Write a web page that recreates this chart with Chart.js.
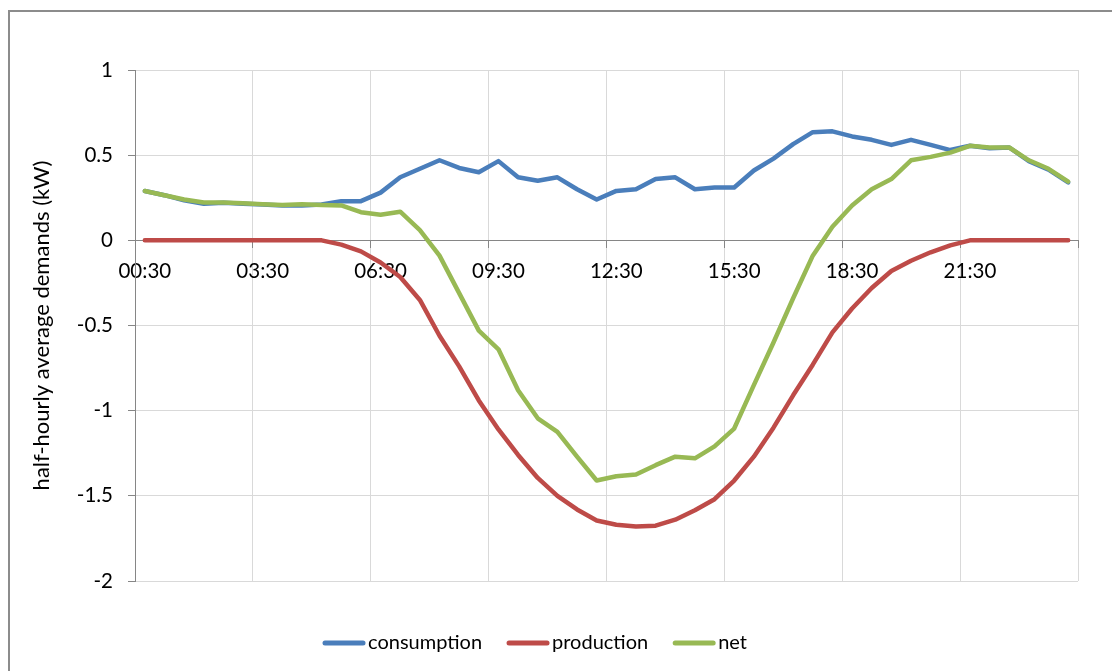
<!DOCTYPE html>
<html>
<head>
<meta charset="utf-8">
<script src="https://cdn.jsdelivr.net/npm/chart.js@4.4.1/dist/chart.umd.min.js"></script>
<style>
  html, body { margin: 0; padding: 0; background: #fff; overflow: hidden; }
  #wrap { position: relative; width: 1112px; height: 671px; }
  #frame { position: absolute; left: 8px; top: 10px; width: 1200px; height: 800px;
           border-left: 2px solid #8c8c8c; border-top: 2px solid #8c8c8c; }
  canvas { position: absolute; left: 0; top: 0; }
</style>
</head>
<body>
<div id="wrap">
  <div id="frame"></div>
  <canvas id="myChart" width="1112" height="671"></canvas>
</div>
<script>
var times = [
  '00:30', '01:00', '01:30', '02:00', '02:30', '03:00', '03:30', '04:00',
  '04:30', '05:00', '05:30', '06:00', '06:30', '07:00', '07:30', '08:00',
  '08:30', '09:00', '09:30', '10:00', '10:30', '11:00', '11:30', '12:00',
  '12:30', '13:00', '13:30', '14:00', '14:30', '15:00', '15:30', '16:00',
  '16:30', '17:00', '17:30', '18:00', '18:30', '19:00', '19:30', '20:00',
  '20:30', '21:00', '21:30', '22:00', '22:30', '23:00', '23:30', '00:00'
];

var consumption = [
  0.29, 0.265, 0.235, 0.215, 0.22, 0.215, 0.21, 0.205,
  0.205, 0.21, 0.23, 0.23, 0.28, 0.37, 0.42, 0.47,
  0.425, 0.40, 0.465, 0.37, 0.35, 0.37, 0.30, 0.24,
  0.29, 0.30, 0.36, 0.37, 0.30, 0.31, 0.31, 0.41,
  0.48, 0.565, 0.635, 0.64, 0.61, 0.59, 0.56, 0.59,
  0.56, 0.53, 0.555, 0.54, 0.545, 0.465, 0.415, 0.34
];

var production = [
  0, 0, 0, 0, 0, 0, 0, 0,
  0, 0, -0.025, -0.065, -0.13, -0.215, -0.35, -0.56,
  -0.74, -0.94, -1.11, -1.26, -1.395, -1.50, -1.58, -1.645,
  -1.67, -1.68, -1.675, -1.64, -1.585, -1.52, -1.41, -1.27,
  -1.10, -0.91, -0.73, -0.54, -0.40, -0.28, -0.18, -0.12,
  -0.07, -0.03, 0, 0, 0, 0, 0, 0
];

var net = [
  0.29, 0.265, 0.24, 0.222, 0.222, 0.218, 0.212, 0.207,
  0.212, 0.208, 0.205, 0.165, 0.15, 0.168, 0.06, -0.09,
  -0.31, -0.53, -0.64, -0.88, -1.045, -1.125, -1.27, -1.41,
  -1.385, -1.375, -1.32, -1.27, -1.28, -1.21, -1.105, -0.85,
  -0.60, -0.34, -0.09, 0.08, 0.205, 0.30, 0.36, 0.47,
  0.49, 0.515, 0.555, 0.545, 0.545, 0.47, 0.42, 0.345
];

var seriesNames = ['consumption', 'production', 'net'];
var seriesColors = ['#4a7ebb', '#be4b48', '#98b954'];

var FONT = 'Lato, "Open Sans", sans-serif';
var gridGrey = '#d9d9d9';
var axisGrey = '#868686';

// legend drawn under the plot, Excel style (line swatch + label)
var lineLegend = {
    id: 'lineLegend',
    afterDraw: function(chart) {
        var ctx = chart.ctx;
        var sets = chart.data.datasets;
        var sw = 42, gap = 3, space = 25, cx = 535, cy = 643;
        ctx.save();
        ctx.font = '20px ' + FONT;
        var widths = sets.map(function(d) { return sw + gap + ctx.measureText(d.label).width; });
        var total = widths.reduce(function(a, b) { return a + b; }, 0) + space * (sets.length - 1);
        var x = cx - total / 2;
        sets.forEach(function(d, i) {
            ctx.strokeStyle = d.borderColor;
            ctx.lineWidth = 5;
            ctx.lineCap = 'round';
            ctx.beginPath();
            ctx.moveTo(x + 2, cy);
            ctx.lineTo(x + sw - 2, cy);
            ctx.stroke();
            ctx.fillStyle = '#000';
            ctx.textBaseline = 'middle';
            ctx.textAlign = 'left';
            ctx.fillText(d.label, x + sw + gap, cy);
            x += widths[i] + space;
        });
        ctx.restore();
    }
};

function makeSet(i, values, order) {
    return {
        label: seriesNames[i],
        data: values,
        borderColor: seriesColors[i],
        backgroundColor: seriesColors[i],
        borderWidth: 4.5,
        pointRadius: 0,
        tension: 0,
        borderJoinStyle: 'round',
        borderCapStyle: 'round',
        order: order
    };
}

var ctx = document.getElementById('myChart').getContext('2d');
var myChart = new Chart(ctx, {
    type: 'line',
    data: {
        labels: times,
        datasets: [
            makeSet(0, consumption, 2),
            makeSet(1, production, 1),
            makeSet(2, net, 0)
        ]
    },
    options: {
        responsive: false,
        animation: false,
        layout: {
            padding: { left: 25, right: 34, top: 70, bottom: 90 }
        },
        scales: {
            x: {
                type: 'category',
                position: { y: 0 },
                offset: true,
                grid: {
                    offset: true,
                    tickLength: 7,
                    color: function(c) {
                        if (c.type === 'tick' && c.index % 6 !== 0) return 'rgba(0,0,0,0)';
                        return gridGrey;
                    },
                    tickColor: function(c) {
                        if (c.type === 'tick' && c.index % 6 !== 0) return 'rgba(0,0,0,0)';
                        return axisGrey;
                    }
                },
                border: { color: axisGrey, width: 1 },
                ticks: {
                    autoSkip: false,
                    maxRotation: 0,
                    padding: 12,
                    color: '#000',
                    font: { family: FONT, size: 20.5 },
                    callback: function(v, i) { return i % 6 === 0 ? times[i] : ''; }
                }
            },
            y: {
                type: 'linear',
                position: 'left',
                min: -2,
                max: 1,
                afterFit: function(s) { s.width = 110; },
                grid: {
                    tickLength: 7,
                    color: function(c) { return c.tick && c.tick.value === 0 ? 'rgba(0,0,0,0)' : gridGrey; },
                    tickColor: axisGrey
                },
                border: { color: axisGrey, width: 1 },
                ticks: {
                    stepSize: 0.5,
                    padding: 15,
                    color: '#000',
                    font: { family: FONT, size: 20.5 },
                    callback: function(v) { return String(v); }
                },
                title: {
                    display: true,
                    text: 'half-hourly average demands (kW)',
                    color: '#000',
                    font: { family: FONT, size: 22 }
                }
            }
        },
        plugins: {
            legend: { display: false },
            tooltip: { enabled: false }
        }
    },
    plugins: [lineLegend]
});
</script>
</body>
</html>
